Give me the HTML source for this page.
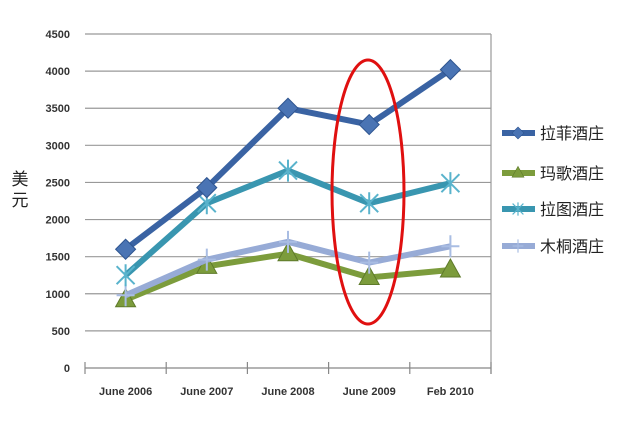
<!DOCTYPE html>
<html><head><meta charset="utf-8"><style>
body{margin:0;background:#fff;}
svg text{font-family:"Liberation Sans","Noto Sans CJK SC",sans-serif;}
</style></head><body>
<svg width="620" height="428" viewBox="0 0 620 428">
<g id="grid"></g><g id="axes"></g><g id="series"></g>
<ellipse cx="368" cy="192" rx="36" ry="132" fill="none" stroke="#e01010" stroke-width="3"/>
<text x="20" y="185" font-size="17" fill="#222" text-anchor="middle">美</text>
<text x="20" y="206" font-size="17" fill="#222" text-anchor="middle">元</text>
<g id="legend"></g>
</svg>
<script>
const categories=["June 2006","June 2007","June 2008","June 2009","Feb 2010"];
const lafite=[1600,2430,3500,3280,4020];
const margaux=[920,1370,1540,1220,1320];
const latour=[1250,2220,2660,2220,2490];
const mouton=[980,1460,1700,1420,1640];
const yTicks=[0,500,1000,1500,2000,2500,3000,3500,4000,4500];
const seriesNames=["拉菲酒庄","玛歌酒庄","拉图酒庄","木桐酒庄"];
const NS="http://www.w3.org/2000/svg";
const L=85,R=491,T=34,B=442-74;
const y=v=>B-(v/4500)*(B-T);
const cw=(R-L)/categories.length;
const x=i=>L+cw*(i+0.5);
function mk(tag,attrs,parent){const e=document.createElementNS(NS,tag);for(const k in attrs)e.setAttribute(k,attrs[k]);parent.appendChild(e);return e;}
const grid=document.getElementById('grid'),axes=document.getElementById('axes'),ser=document.getElementById('series'),leg=document.getElementById('legend');
yTicks.forEach(v=>{
 if(v>0){const g=mk('line',{x1:L,x2:R,y1:y(v),y2:y(v),stroke:'#999','stroke-width':1.2},grid);
 
 }
 const t=mk('text',{x:70,y:y(v)+4,'font-size':11,'text-anchor':'end',fill:'#333','font-weight':'bold'},axes);t.textContent=v;
 
 
});
let a=mk('line',{x1:R,x2:R,y1:T,y2:B+6,stroke:'#999','stroke-width':1.2},axes);


a=mk('line',{x1:L,x2:R,y1:B,y2:B,stroke:'#888','stroke-width':1.2},axes);


for(let i=0;i<=categories.length;i++){const tk=mk('line',{x1:L+cw*i,x2:L+cw*i,y1:B-6,y2:B+6,stroke:'#888','stroke-width':1.2},axes);
 
 }
categories.forEach((c,i)=>{const t=mk('text',{x:x(i),y:395,'font-size':11,'text-anchor':'middle',fill:'#333','font-weight':'bold'},axes);t.textContent=c;
 
 });
const cols=["#3a63a3","#7c9c3c","#3996b0","#97abd6"];
const data=[lafite,latour,mouton,margaux];
const order=[0,2,3,1];
function marker(k,cx,cy,p){
 if(k===0)return mk('path',{d:`M${cx} ${cy-10}L${cx+10} ${cy}L${cx} ${cy+10}L${cx-10} ${cy}Z`,fill:'#4a74b4',stroke:'#2f5590','stroke-width':1},p);
 if(k===1)return mk('path',{d:`M${cx} ${cy-11}L${cx+10} ${cy+7}L${cx-10} ${cy+7}Z`,fill:'#7c9c3c',stroke:'#5e7a2a','stroke-width':1},p);
 if(k===2)return mk('path',{d:`M${cx-9} ${cy-9}L${cx+9} ${cy+9}M${cx+9} ${cy-9}L${cx-9} ${cy+9}M${cx} ${cy-11}V${cy+11}`,stroke:'#59b3cc','stroke-width':2},p);
 return mk('path',{d:`M${cx-9} ${cy}H${cx+9}M${cx} ${cy-11}V${cy+11}`,stroke:'#a9bde3','stroke-width':2},p);
}
const all=[lafite,margaux,latour,mouton];
[1,3,2,0].forEach(k=>{
 const d=all[k];
 const pl=mk('polyline',{points:d.map((v,i)=>x(i)+','+y(v)).join(' '),fill:'none',stroke:cols[k],'stroke-width':6,'stroke-linejoin':'round'},ser);
 
 
 d.forEach((v,i)=>{const m=marker(k,x(i),y(v),ser);
  
  });
});
const ly=[133,173,209,246];
seriesNames.forEach((n,k)=>{
 const l=mk('line',{x1:502,x2:535,y1:ly[k],y2:ly[k],stroke:cols[k],'stroke-width':6},leg);
 
 
 const m=marker(k,518,ly[k],leg);m.setAttribute('transform',`translate(518 ${ly[k]}) scale(0.6) translate(-518 ${-ly[k]})`);
 
 
 const t=mk('text',{x:540,y:ly[k]+6,'font-size':16,fill:'#222'},leg);t.textContent=n;
 
 
});
</script>
</body></html>
